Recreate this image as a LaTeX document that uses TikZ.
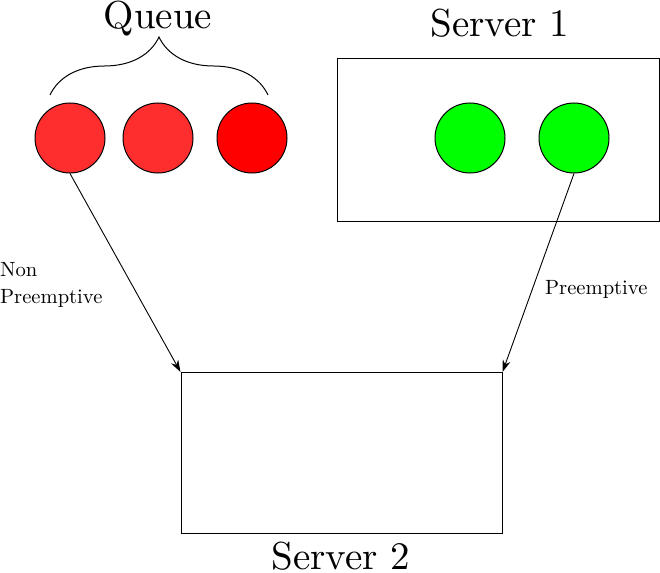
\documentclass[tikz,border=0pt]{standalone}
\usetikzlibrary{arrows.meta,decorations.pathreplacing}
\definecolor{lightred}{RGB}{255,46,46}
\definecolor{purered}{RGB}{255,0,0}
\definecolor{puregreen}{RGB}{0,255,0}
\newcommand{\bigtxt}[1]{\scalebox{3.9}{\fontsize{10}{12}\selectfont #1}}
\newcommand{\smalltxt}[1]{\scalebox{2.06}{\fontsize{10}{12}\selectfont #1}}
\begin{document}
\begin{tikzpicture}[x=1pt,y=-1pt,
  ball/.style={circle,draw=black,line width=1pt,minimum size=70pt,inner sep=0pt},
  box/.style={rectangle,draw=black,line width=1pt,inner sep=0pt},
  bigtext/.style={anchor=base,inner sep=0pt},
  smalltext/.style={anchor=base west,inner sep=0pt},
  arr/.style={-{Stealth[length=12pt,width=8pt]},line width=0.9pt}]
\useasboundingbox (0,0) rectangle (660,572);
% Server 1
\node[box,minimum width=322pt,minimum height=162pt] (s1) at (498,140) {};
\node[bigtext] (s1lab) at (500,37) {\bigtxt{Server 1}};
% Server 2
\node[box,minimum width=321pt,minimum height=161pt] (s2) at (341.5,453) {};
\node[bigtext] (s2lab) at (341,569) {\bigtxt{Server 2}};
% queue
\node[ball,fill=lightred] (c1) at (70,138) {};
\node[ball,fill=lightred] (c2) at (158,138) {};
\node[ball,fill=purered] (c3) at (252,138) {};
\node[ball,fill=puregreen] (g1) at (470,138) {};
\node[ball,fill=puregreen] (g2) at (574,138) {};
\coordinate (bl) at (50,95);
\coordinate (br) at (268,95);
\draw[line width=1pt,decorate,decoration={brace,amplitude=58pt}] (bl) -- (br);
\node[bigtext] (qlab) at (158,29) {\bigtxt{Queue}};
% arrows
\draw[arr] (c1.south) -- (s2.north west);
\draw[arr] (g2.south) -- (s2.north east);
\node[smalltext] (np1) at (0,276) {\smalltxt{Non}};
\node[smalltext] (np2) at (0,303) {\smalltxt{Preemptive}};
\node[smalltext] (pl) at (545,294) {\smalltxt{Preemptive}};
\end{tikzpicture}
\end{document}
